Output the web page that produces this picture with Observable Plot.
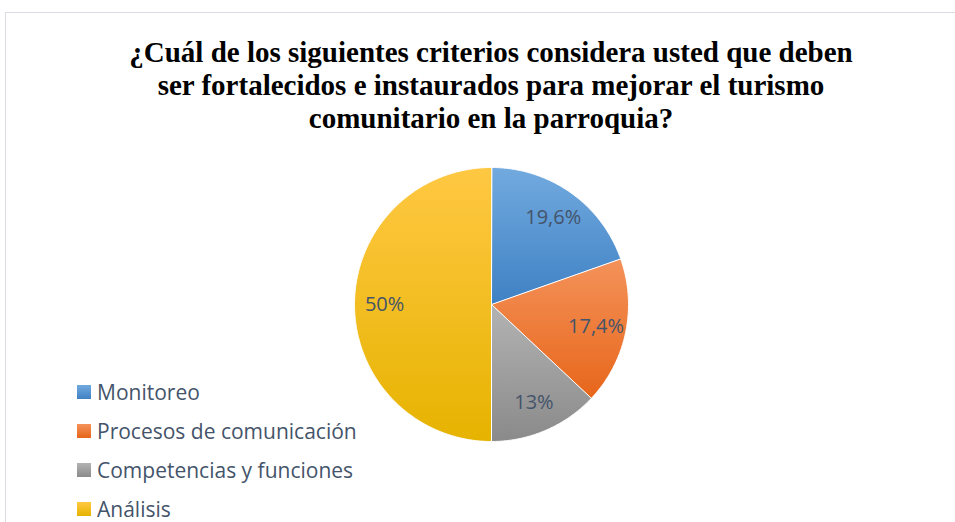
<!DOCTYPE html>
<html>
<head>
<meta charset="utf-8">
<script src="https://cdn.jsdelivr.net/npm/d3@7"></script>
<script src="https://cdn.jsdelivr.net/npm/@observablehq/plot@0.6"></script>
<style>
  html, body { margin: 0; padding: 0; background: #fff; }
  #wrap { position: relative; width: 955px; height: 522px; overflow: hidden; }
  #frame { position: absolute; left: 5px; top: 12px; width: 960px; height: 520px; border: 1px solid #d9dde3; box-sizing: border-box; }
  #title { position: absolute; left: 0; width: 982px; top: 36px; text-align: center;
           font-family: "Liberation Serif", "Times New Roman", serif; font-weight: bold;
           font-size: 29px; line-height: 33px; color: #000; }
  #legend { position: absolute; left: 77px; top: 372px; font-family: "Open Sans", sans-serif;
            font-size: 21px; color: #44546a; }
  .item { height: 39px; display: flex; align-items: center; }
  .sw { width: 14px; height: 14px; margin-right: 6px; }
  svg { position: absolute; left: 0; top: 0; }
</style>
</head>
<body>
<div id="wrap">
  <div id="frame"></div>
  <div id="chart"></div>
  <div id="title">¿Cuál de los siguientes criterios considera usted que deben<br>ser fortalecidos e instaurados para mejorar el turismo<br>comunitario en la parroquia?</div>
  <div id="legend"></div>
</div>
<script>
const categories = ["Monitoreo", "Procesos de comunicación", "Competencias y funciones", "Análisis"];
const values = [19.6, 17.4, 13, 50];
const labels = ["19,6%", "17,4%", "13%", "50%"];
const topColors = ["#72aadf", "#f4925a", "#b3b3b3", "#ffc843"];
const bottomColors = ["#3f81c4", "#e7661a", "#8a8a8a", "#e6b300"];

const W = 955, H = 522, CX = 491, CY = 304, R = 137;

const pie = d3.pie().sort(null).value(d => d)(values);

// polygon outline of each slice, in unit-radius coordinates
const slicePts = [];
pie.forEach((p, i) => {
  slicePts.push({cat: categories[i], x: 0, y: 0});
  const n = Math.max(4, Math.ceil((p.endAngle - p.startAngle) / 0.01));
  for (let k = 0; k <= n; k++) {
    const a = p.startAngle + (p.endAngle - p.startAngle) * k / n;
    slicePts.push({cat: categories[i], x: Math.sin(a), y: Math.cos(a)});
  }
});
const labelPts = pie.map((p, i) => {
  const a = (p.startAngle + p.endAngle) / 2;
  return {cat: categories[i], label: labels[i], x: 0.78 * Math.sin(a), y: 0.78 * Math.cos(a)};
});

const plot = Plot.plot({
  width: W, height: H,
  margin: 0,
  x: {domain: [-CX / R, (W - CX) / R], axis: null},
  y: {domain: [-(H - CY) / R, CY / R], axis: null},
  color: {domain: categories, range: categories.map((c, i) => `url(#grad${i})`)},
  marks: [
    Plot.line(slicePts, {x: "x", y: "y", z: "cat", fill: "cat", stroke: "#fff", strokeWidth: 1, curve: "linear-closed"}),
    Plot.text(labelPts, {x: "x", y: "y", text: "label", fill: "#44546a", fontSize: 20,
      fontFamily: "Open Sans, sans-serif"})
  ]
});

// gradient definitions
const ns = "http://www.w3.org/2000/svg";
const defs = document.createElementNS(ns, "defs");
categories.forEach((c, i) => {
  const g = document.createElementNS(ns, "linearGradient");
  g.setAttribute("id", `grad${i}`);
  g.setAttribute("x1", "0"); g.setAttribute("y1", "0");
  g.setAttribute("x2", "0"); g.setAttribute("y2", "1");
  [[0, topColors[i]], [1, bottomColors[i]]].forEach(([o, col]) => {
    const s = document.createElementNS(ns, "stop");
    s.setAttribute("offset", o); s.setAttribute("stop-color", col);
    g.appendChild(s);
  });
  defs.appendChild(g);
});
plot.insertBefore(defs, plot.firstChild);
plot.style.background = "transparent";
document.getElementById("chart").appendChild(plot);

const legend = d3.select("#legend");
categories.forEach((c, i) => {
  const it = legend.append("div").attr("class", "item");
  it.append("div").attr("class", "sw")
    .style("background", `linear-gradient(${topColors[i]}, ${bottomColors[i]})`);
  it.append("span").text(c);
});
</script>
</body>
</html>
